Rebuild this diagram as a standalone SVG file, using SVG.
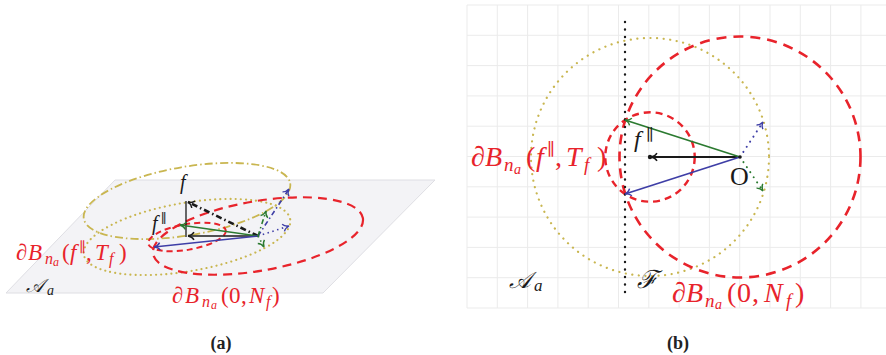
<svg xmlns="http://www.w3.org/2000/svg" width="886" height="355" viewBox="0 0 886 355">
<style>
.m{font-family:"Liberation Serif","DejaVu Serif",serif;font-style:italic}
.u{font-style:normal}
.red{fill:#e8232b}
.blk{fill:#1a1a1a}
.grid{stroke:#ebebeb;stroke-width:1}
.rdash{fill:none;stroke:#e8232b}
.ydot{fill:none;stroke:#c9b650;stroke-linecap:round}
.cap{font-family:"Liberation Serif",serif;font-weight:bold;font-size:18px;fill:#222;text-anchor:middle}
</style>
<defs>
<marker id="ak" markerUnits="userSpaceOnUse" markerWidth="12" markerHeight="12" refX="0" refY="0" orient="auto" overflow="visible"><path d="M-6,-3.8 C-4.5,-1.3 -1.8,-0.3 0,0 C-1.8,0.3 -4.5,1.3 -6,3.8" fill="none" stroke="#1a1a1a" stroke-width="1.4"/></marker>
<marker id="ag" markerUnits="userSpaceOnUse" markerWidth="12" markerHeight="12" refX="0" refY="0" orient="auto" overflow="visible"><path d="M-6,-3.8 C-4.5,-1.3 -1.8,-0.3 0,0 C-1.8,0.3 -4.5,1.3 -6,3.8" fill="none" stroke="#2b7a30" stroke-width="1.4"/></marker>
<marker id="ab" markerUnits="userSpaceOnUse" markerWidth="12" markerHeight="12" refX="0" refY="0" orient="auto" overflow="visible"><path d="M-6,-3.8 C-4.5,-1.3 -1.8,-0.3 0,0 C-1.8,0.3 -4.5,1.3 -6,3.8" fill="none" stroke="#3e3ea6" stroke-width="1.4"/></marker>
</defs>

<!-- Panel (a) -->
<g id="panel-a">
  <polygon id="plane" points="115,180 435,180 323,293 6,293" fill="#f3f3f6" stroke="#dedee3" stroke-width="1"/>
  <g id="ellipses-a">
    <ellipse id="sphere-top" cx="187" cy="201" rx="104.7" ry="34.2" transform="rotate(-9.74 187 201)" fill="none" stroke="#c9b650" stroke-width="1.8" stroke-dasharray="8 3 1.5 3"/>
    <ellipse id="plane-circle" class="ydot" cx="187" cy="237" rx="104.7" ry="34.2" transform="rotate(-9.74 187 237)" stroke-width="2.1" stroke-dasharray="0.1 5"/>
    <ellipse id="ball-N-a" class="rdash" cx="258" cy="236" rx="106.4" ry="34.8" transform="rotate(-9.74 258 236)" stroke-width="2.2" stroke-dasharray="9 6"/>
    <ellipse id="ball-T-a" class="rdash" cx="187" cy="237" rx="39.3" ry="12.8" transform="rotate(-9.74 187 237)" stroke-width="2" stroke-dasharray="6 4"/>
  </g>
  <g id="connectors-a">
    <line x1="186" y1="201" x2="186" y2="237" stroke="#1a1a1a" stroke-width="1.3"/>
    <line x1="258" y1="236" x2="188" y2="236" stroke="#1a1a1a" stroke-width="1.6" marker-end="url(#ak)"/>
    <line x1="258" y1="236" x2="188" y2="202" stroke="#1a1a1a" stroke-width="2.6" stroke-dasharray="6 3 1.5 3" marker-end="url(#ak)"/>
    <line x1="258" y1="236" x2="180" y2="225" stroke="#2b7a30" stroke-width="1.5" marker-end="url(#ag)"/>
    <line x1="258" y1="236" x2="154" y2="247" stroke="#3e3ea6" stroke-width="1.5" marker-end="url(#ab)"/>
    <line x1="258" y1="236" x2="289" y2="226" stroke="#3e3ea6" stroke-width="1.6" stroke-dasharray="1.5 3.5" marker-end="url(#ab)"/>
    <line x1="258" y1="236" x2="289" y2="189" stroke="#3e3ea6" stroke-width="1.6" stroke-dasharray="5 3 1.5 3" marker-end="url(#ab)"/>
    <line x1="258" y1="236" x2="264" y2="247" stroke="#2b7a30" stroke-width="1.6" stroke-dasharray="1.5 3.5" marker-end="url(#ag)"/>
    <line x1="258" y1="236" x2="266" y2="211" stroke="#2b7a30" stroke-width="1.6" stroke-dasharray="5 3 1.5 3" marker-end="url(#ag)"/>
  </g>
  <g id="labels-a">
    <text class="m blk" x="180" y="189" font-size="20">f</text>
    <text class="m blk" font-size="20"><tspan x="152" y="230">f</tspan><tspan class="u" x="161" y="223" font-size="13">∥</tspan></text>
    <text class="m red" font-size="23"><tspan x="16" y="260">∂</tspan><tspan x="28" y="260">B</tspan><tspan x="45" y="264" font-size="16">n</tspan><tspan x="53" y="266" font-size="12">a</tspan><tspan class="u" x="62" y="260">(</tspan><tspan x="70" y="260">f</tspan><tspan class="u" x="79" y="252" font-size="14">∥</tspan><tspan class="u" x="86" y="260">,</tspan><tspan x="95" y="260">T</tspan><tspan x="109" y="264" font-size="16">f</tspan><tspan class="u" x="119" y="260">)</tspan></text>
    <text class="m red" font-size="23"><tspan x="172" y="303">∂</tspan><tspan x="185" y="303">B</tspan><tspan x="202" y="307" font-size="16">n</tspan><tspan x="211" y="309" font-size="12">a</tspan><tspan class="u" x="221" y="303">(</tspan><tspan class="u" x="229" y="303">0</tspan><tspan class="u" x="241" y="303">,</tspan><tspan x="249" y="303">N</tspan><tspan x="266" y="307" font-size="16">f</tspan><tspan class="u" x="272" y="303">)</tspan></text>
    <text class="m blk" font-size="19"><tspan x="26" y="292">𝒜</tspan><tspan x="47" y="295" font-size="14">a</tspan></text>
  </g>
</g>

<!-- Panel (b) -->
<g id="panel-b">
  <g id="grid" class="grid">
    <line x1="467" y1="5" x2="886" y2="5"/><line x1="467" y1="35.3" x2="886" y2="35.3"/><line x1="467" y1="65.6" x2="886" y2="65.6"/><line x1="467" y1="95.9" x2="886" y2="95.9"/><line x1="467" y1="126.2" x2="886" y2="126.2"/><line x1="467" y1="156.5" x2="886" y2="156.5"/><line x1="467" y1="186.8" x2="886" y2="186.8"/><line x1="467" y1="217.1" x2="886" y2="217.1"/><line x1="467" y1="247.4" x2="886" y2="247.4"/><line x1="467" y1="277.7" x2="886" y2="277.7"/><line x1="467" y1="308" x2="886" y2="308"/>
    <line x1="467" y1="5" x2="467" y2="308"/><line x1="497.3" y1="5" x2="497.3" y2="308"/><line x1="527.6" y1="5" x2="527.6" y2="308"/><line x1="557.9" y1="5" x2="557.9" y2="308"/><line x1="588.2" y1="5" x2="588.2" y2="308"/><line x1="618.5" y1="5" x2="618.5" y2="308"/><line x1="648.8" y1="5" x2="648.8" y2="308"/><line x1="679.1" y1="5" x2="679.1" y2="308"/><line x1="709.4" y1="5" x2="709.4" y2="308"/><line x1="739.7" y1="5" x2="739.7" y2="308"/><line x1="770" y1="5" x2="770" y2="308"/><line x1="800.3" y1="5" x2="800.3" y2="308"/><line x1="830.6" y1="5" x2="830.6" y2="308"/><line x1="860.9" y1="5" x2="860.9" y2="308"/>
  </g>
  <g id="circles-b">
    <circle id="plane-circle-b" class="ydot" cx="650" cy="157" r="119" stroke-width="2.2" stroke-dasharray="0.1 6.5"/>
    <circle id="ball-N-b" class="rdash" cx="740" cy="157" r="120.5" stroke-width="2.6" stroke-dasharray="10 7"/>
    <circle id="ball-T-b" class="rdash" cx="650" cy="157" r="44.7" stroke-width="2.4" stroke-dasharray="7 5"/>
  </g>
  <g id="connectors-b">
    <line id="face-F" x1="625" y1="22" x2="625" y2="293" stroke="#1a1a1a" stroke-width="2.4" stroke-linecap="round" stroke-dasharray="0.1 7.4"/>
    <line x1="740" y1="157" x2="651" y2="157" stroke="#1a1a1a" stroke-width="2" marker-end="url(#ak)"/>
    <circle cx="650" cy="157" r="2.2" fill="#1a1a1a"/>
    <line x1="740" y1="157" x2="625" y2="120" stroke="#2b7a30" stroke-width="1.8" marker-end="url(#ag)"/>
    <line x1="740" y1="157" x2="625" y2="194" stroke="#3e3ea6" stroke-width="1.8" marker-end="url(#ab)"/>
    <line x1="740" y1="157" x2="763" y2="122" stroke="#3e3ea6" stroke-width="2" stroke-linecap="round" stroke-dasharray="0.1 6" marker-end="url(#ab)"/>
    <line x1="740" y1="157" x2="763" y2="191" stroke="#2b7a30" stroke-width="2" stroke-linecap="round" stroke-dasharray="0.1 6" marker-end="url(#ag)"/>
    <circle cx="740" cy="157" r="1.8" fill="#1a1a1a"/>
  </g>
  <g id="labels-b">
    <text class="m blk" font-size="24"><tspan x="634" y="147">f</tspan><tspan class="u" x="646" y="140" font-size="16">∥</tspan></text>
    <text class="m blk u" x="730" y="185" font-size="26">O</text>
    <text class="m red" font-size="28"><tspan x="471" y="166">∂</tspan><tspan x="485" y="166">B</tspan><tspan x="504" y="171" font-size="19">n</tspan><tspan x="514" y="174" font-size="14">a</tspan><tspan class="u" x="526" y="166">(</tspan><tspan x="536" y="166">f</tspan><tspan class="u" x="547" y="155" font-size="17">∥</tspan><tspan class="u" x="555" y="166">,</tspan><tspan x="566" y="166">T</tspan><tspan x="584" y="171" font-size="19">f</tspan><tspan class="u" x="597" y="166">)</tspan></text>
    <text class="m red" font-size="28"><tspan x="672" y="302">∂</tspan><tspan x="686" y="302">B</tspan><tspan x="705" y="307" font-size="19">n</tspan><tspan x="715" y="309" font-size="14">a</tspan><tspan class="u" x="727" y="302">(</tspan><tspan class="u" x="737" y="302">0</tspan><tspan class="u" x="752" y="302">,</tspan><tspan x="764" y="302">N</tspan><tspan x="786" y="307" font-size="19">f</tspan><tspan class="u" x="795" y="302">)</tspan></text>
    <text class="m blk" font-size="23"><tspan x="509" y="288">𝒜</tspan><tspan x="534" y="291" font-size="17">a</tspan></text>
    <text class="m blk" x="637" y="288" font-size="25">ℱ</text>
  </g>
</g>

<text class="cap" x="221" y="349">(a)</text>
<text class="cap" x="678" y="349">(b)</text>
</svg>
